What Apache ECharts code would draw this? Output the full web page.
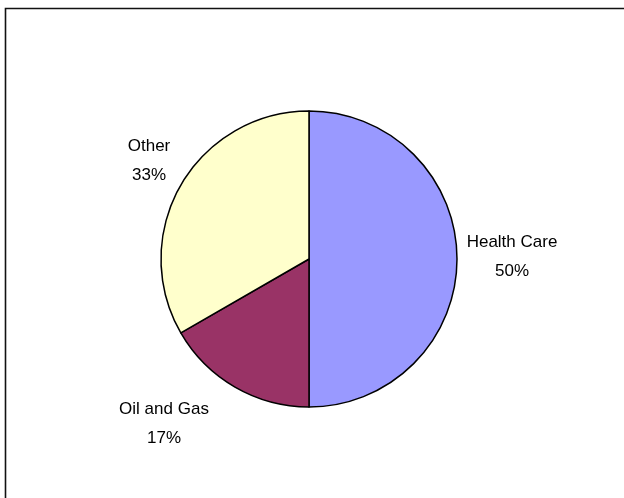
<!DOCTYPE html>
<html>
<head>
<meta charset="utf-8">
<script src="https://cdn.jsdelivr.net/npm/echarts@6/dist/echarts.min.js"></script>
<style>
html,body{margin:0;padding:0;background:#fff;}
#chart{width:624px;height:498px;}
</style>
</head>
<body>
<div id="chart"></div>
<script>
const categories = ['Health Care', 'Oil and Gas', 'Other'];
const values = [50, 16.67, 33.33];
const colors = ['#9999FF', '#993366', '#FFFFCC'];
const labelPos = [[512, 257], [164, 424], [149, 161]];

const chart = echarts.init(document.getElementById('chart'), null, {renderer: 'canvas'});
chart.setOption({
  animation: false,
  backgroundColor: '#ffffff',
  graphic: [{
    type: 'rect',
    shape: {x: 5.5, y: 8.5, width: 700, height: 600},
    style: {fill: 'none', stroke: '#111', lineWidth: 1.6},
    silent: true
  }],
  series: [{
    type: 'pie',
    center: [309, 259],
    radius: 148,
    startAngle: 90,
    clockwise: true,
    data: categories.map((c, i) => ({name: c, value: values[i], itemStyle: {color: colors[i]}})),
    itemStyle: {borderColor: '#000', borderWidth: 1.5},
    label: {
      show: true,
      position: 'outside',
      formatter: p => p.name + '\n' + Math.round(p.percent) + '%',
      fontFamily: 'Arial, "Liberation Sans", sans-serif',
      fontSize: 17,
      lineHeight: 29,
      color: '#000',
      align: 'center'
    },
    labelLine: {show: false},
    labelLayout: p => ({x: labelPos[p.dataIndex][0], y: labelPos[p.dataIndex][1], align: 'center', verticalAlign: 'middle'}),
    emphasis: {disabled: true}
  }]
});
</script>
</body>
</html>
